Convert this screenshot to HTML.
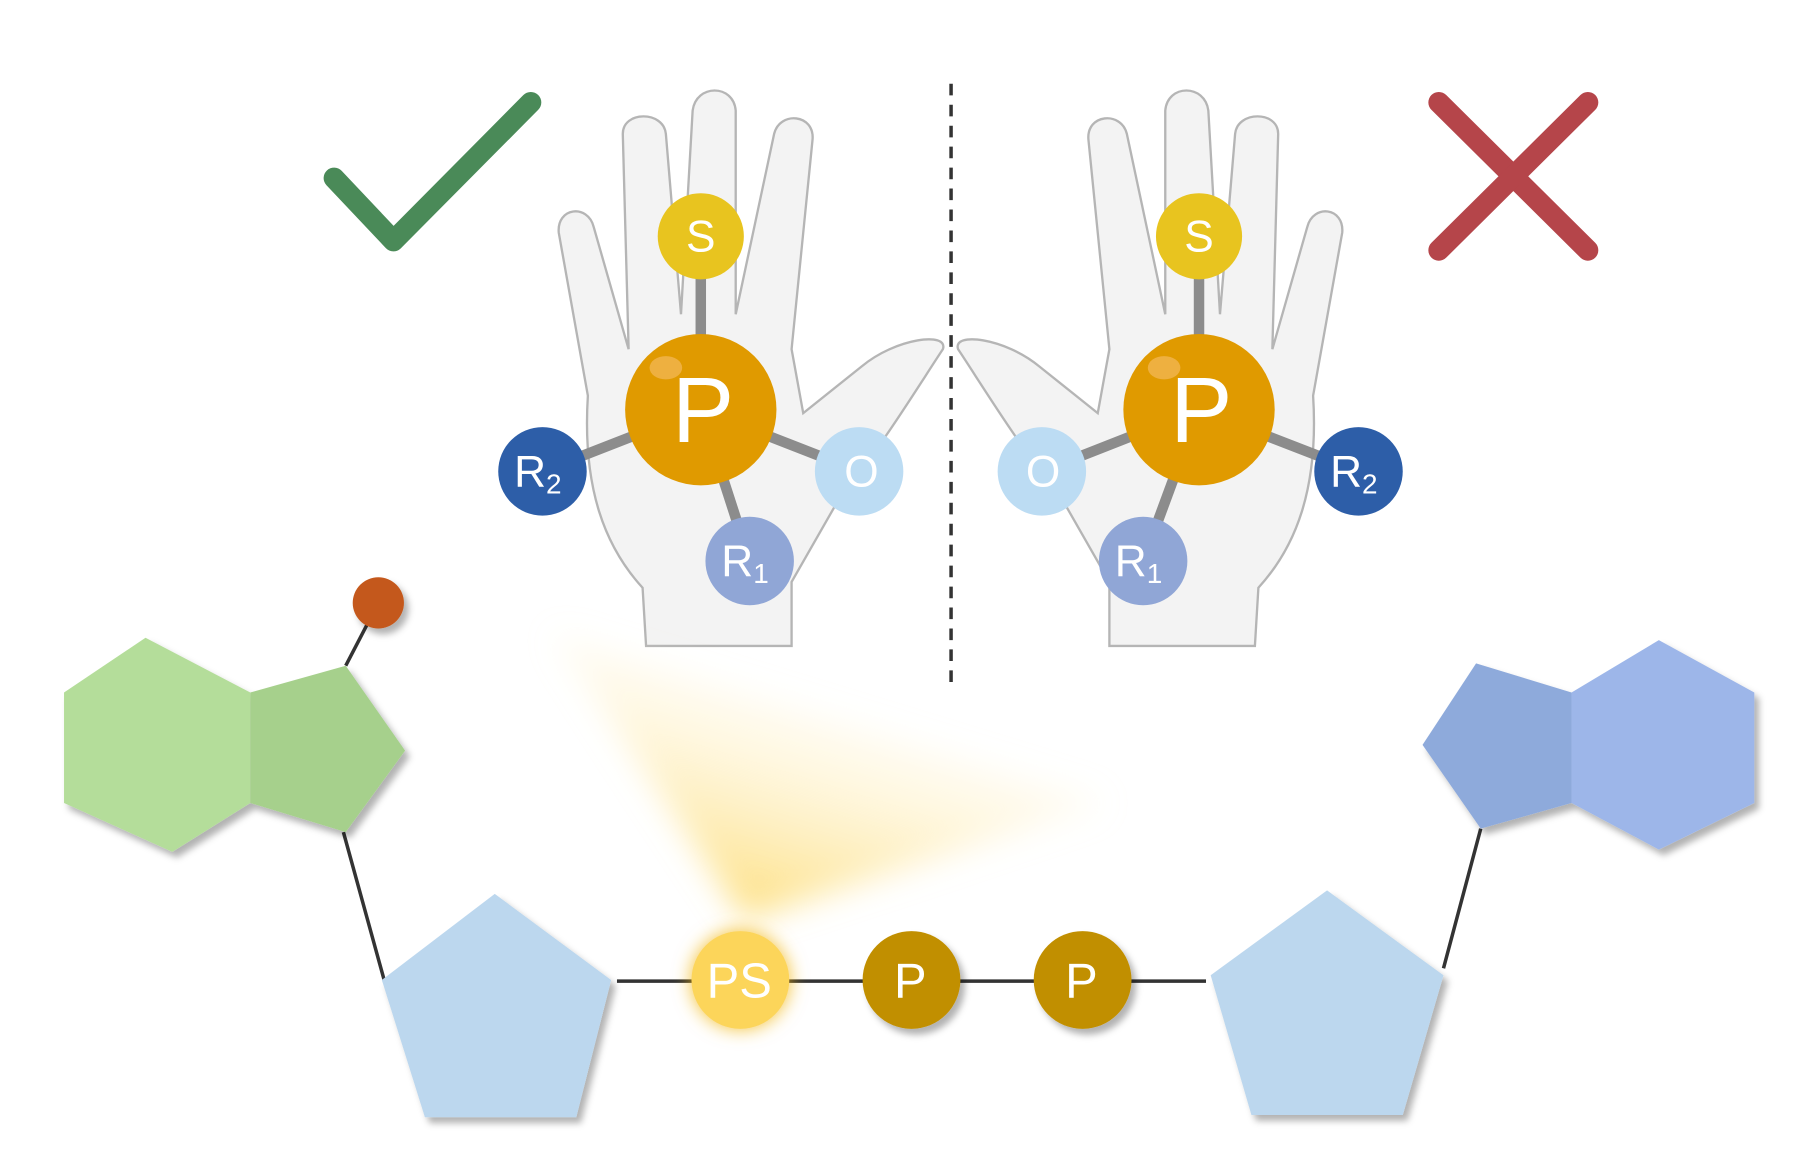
<!DOCTYPE html>
<html><head><style>html,body{margin:0;padding:0;background:#fff}svg{display:block}</style></head>
<body>
<svg width="1816" height="1165" viewBox="0 0 1560 1001" preserveAspectRatio="none" xmlns="http://www.w3.org/2000/svg" font-family="Liberation Sans, sans-serif">
<defs>
<filter id="bl" x="-30%" y="-30%" width="160%" height="160%"><feGaussianBlur stdDeviation="14"/></filter>
<filter id="sh" x="-20%" y="-20%" width="150%" height="150%"><feDropShadow dx="4" dy="5" stdDeviation="3" flood-color="#000" flood-opacity="0.3"/></filter>
<filter id="gl" x="-50%" y="-50%" width="200%" height="200%"><feDropShadow dx="0" dy="0" stdDeviation="8" flood-color="#f0b000" flood-opacity="0.8"/></filter>
<linearGradient id="yg" x1="0" y1="1" x2="0.6" y2="0"><stop offset="0" stop-color="#fcd24a"/><stop offset="1" stop-color="#fff" stop-opacity="0"/></linearGradient>
</defs>
<rect width="1560" height="1001" fill="#fff"/>
<!-- check & X -->
<polyline points="287,153 338,207 456,88" fill="none" stroke="#4a8a58" stroke-width="18" stroke-linecap="round" stroke-linejoin="round"/>
<line x1="1236" y1="88" x2="1364" y2="215" stroke="#b5454a" stroke-width="18" stroke-linecap="round"/>
<line x1="1364" y1="88" x2="1236" y2="215" stroke="#b5454a" stroke-width="18" stroke-linecap="round"/>
<line x1="817" y1="72" x2="817" y2="588" stroke="#333" stroke-width="3" stroke-dasharray="10 8"/>
<!-- hands -->
<g fill="#f3f3f3" stroke="#b5b5b5" stroke-width="2">
<g id="hand">
<path d="M555,555 L552,505 C520,470 500,420 505,340 L480,200 C478,178 505,175 510,195 L540,300 L535,115 C535,95 570,95 572,115 L585,270 L595,95 C598,72 630,72 632,95 L632,270 L665,115 C670,95 700,98 698,120 L680,300 L690,355 L740,315 C770,290 815,285 810,300 C790,330 760,380 720,430 L680,500 L680,555 Z"/>
</g>
<use href="#hand" transform="translate(1633,0) scale(-1,1)"/>
</g>
<!-- left molecule -->
<g stroke="#8c8c8c" stroke-width="9">
<line x1="602" y1="352" x2="602" y2="203"/><line x1="602" y1="352" x2="466" y2="405"/><line x1="602" y1="352" x2="738" y2="405"/><line x1="602" y1="352" x2="644" y2="482"/>
<line x1="1030" y1="352" x2="1030" y2="203"/><line x1="1030" y1="352" x2="895" y2="405"/><line x1="1030" y1="352" x2="1167" y2="405"/><line x1="1030" y1="352" x2="982" y2="482"/>
</g>
<g font-size="38" fill="#fff" text-anchor="middle">
<circle cx="602" cy="203" r="37" fill="#e8c41f"/><text x="602" y="216">S</text>
<circle cx="602" cy="352" r="65" fill="#e09a00"/><ellipse cx="572" cy="316" rx="14" ry="10" fill="#eeb040"/><text x="604" y="380" font-size="80">P</text>
<circle cx="466" cy="405" r="38" fill="#2d5ea8"/><text x="462" y="418">R<tspan font-size="24" dy="6">2</tspan></text>
<circle cx="738" cy="405" r="38" fill="#bcdcf3"/><text x="740" y="418">O</text>
<circle cx="644" cy="482" r="38" fill="#90a6d6"/><text x="640" y="495">R<tspan font-size="24" dy="6">1</tspan></text>
<circle cx="1030" cy="203" r="37" fill="#e8c41f"/><text x="1030" y="216">S</text>
<circle cx="1030" cy="352" r="65" fill="#e09a00"/><ellipse cx="1000" cy="316" rx="14" ry="10" fill="#eeb040"/><text x="1032" y="380" font-size="80">P</text>
<circle cx="895" cy="405" r="38" fill="#bcdcf3"/><text x="896" y="418">O</text>
<circle cx="1167" cy="405" r="38" fill="#2d5ea8"/><text x="1163" y="418">R<tspan font-size="24" dy="6">2</tspan></text>
<circle cx="982" cy="482" r="38" fill="#90a6d6"/><text x="978" y="495">R<tspan font-size="24" dy="6">1</tspan></text>
</g>
<!-- glow -->
<polygon points="475,545 950,690 640,790" fill="url(#yg)" filter="url(#bl)"/>
<!-- lines -->
<g stroke="#333" stroke-width="3">
<line x1="325" y1="518" x2="297" y2="572"/>
<line x1="295" y1="715" x2="330" y2="842"/>
<line x1="1240" y1="832" x2="1272" y2="712"/>
<line x1="530" y1="843" x2="1036" y2="843"/>
</g>
<g filter="url(#sh)">
<circle cx="325" cy="518" r="22" fill="#c4581a"/>
<polygon points="55,595 125,548 215,595 215,690 148,732 55,690" fill="#b4dd9a"/>
<polygon points="215,595 297,572 348,645 297,715 215,690" fill="#a6d08c"/>
<polygon points="1222,640 1268,570 1350,595 1350,690 1272,712" fill="#8eaadb"/>
<polygon points="1350,595 1425,550 1507,595 1507,690 1425,730 1350,690" fill="#9db6e9"/>
<polygon points="425,768 525,842 495,960 365,960 328,842" fill="#bcd7ee"/>
<polygon points="1140,765 1240,838 1205,958 1075,958 1040,838" fill="#bcd7ee"/>
<circle cx="783" cy="842" r="42" fill="#c18f00"/>
<circle cx="930" cy="842" r="42" fill="#c18f00"/>
</g>
<circle cx="636" cy="842" r="42" fill="#fcd55a" filter="url(#gl)"/>
<g font-size="42" fill="#fff" text-anchor="middle">
<text x="635" y="857">PS</text><text x="782" y="857">P</text><text x="929" y="857">P</text>
</g>
</svg>
</body></html>
